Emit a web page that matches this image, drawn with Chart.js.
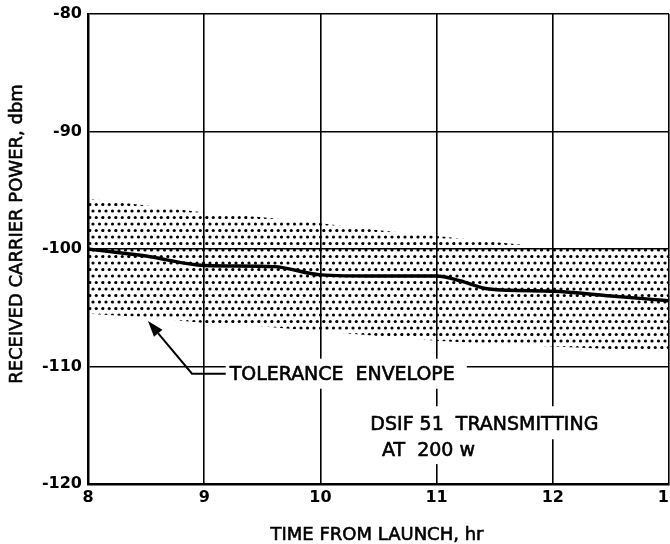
<!DOCTYPE html>
<html>
<head>
<meta charset="utf-8">
<script src="https://cdn.jsdelivr.net/npm/chart.js@4/dist/chart.umd.min.js"></script>
<style>
  html, body { margin: 0; padding: 0; background: #fff; }
  #wrap { width: 670px; height: 544px; }
</style>
</head>
<body>
<div id="wrap"><canvas id="c" width="670" height="544"></canvas></div>
<script>
// Axis ticks
const hourTicks = [8, 9, 10, 11, 12, 13];
const powerTicks = [-80, -90, -100, -110, -120];

// Received carrier power (dbm) against time from launch (hr)
const carrierHours = [8, 8.5, 9, 9.6, 10, 10.5, 11, 11.2, 11.45, 12, 12.5, 13];
const carrierPower = [-100.0, -100.6, -101.4, -101.5, -102.2, -102.3, -102.3, -102.7, -103.4, -103.6, -104.0, -104.4];

// Tolerance envelope bounds (dbm)
const envelopeHours = [8, 8.5, 9, 9.5, 10, 10.5, 11, 11.5, 12, 12.5, 13];
const envelopeUpper = [-95.7, -96.3, -96.9, -97.3, -97.8, -98.4, -98.9, -99.4, -99.9, -100.0, -100.0];
const envelopeLower = [-105.5, -105.8, -106.3, -106.6, -107.0, -107.4, -107.8, -108.1, -108.3, -108.5, -108.5];

// Callout texts
const xTitle = 'TIME FROM LAUNCH, hr';
const yTitle = 'RECEIVED CARRIER POWER, dbm';
const envelopeLabel = 'TOLERANCE  ENVELOPE';
const stationLines = ['DSIF 51  TRANSMITTING', 'AT  200 w'];

const FONT = '"DejaVu Sans", "Liberation Sans", sans-serif';

// Stippled fill used for the envelope
function makeDots() {
  const t = document.createElement('canvas');
  t.width = 13; t.height = 13;
  const g = t.getContext('2d');
  g.fillStyle = '#000';
  const dots = [[2, 3], [8.5, 3], [5.25, 9.5], [11.75, 9.5], [-1.25, 9.5]];
  for (const [x, y] of dots) {
    g.beginPath(); g.arc(x, y, 1.6, 0, Math.PI * 2); g.fill();
  }
  return g.createPattern(t, 'repeat');
}

const pts = (xs, ys) => xs.map((x, i) => ({ x, y: ys[i] }));

// lettering drawn slightly heavier than the plain font
function letter(ctx, text, x, y, maxW) {
  ctx.fillText(text, x, y, maxW);
  ctx.strokeText(text, x, y, maxW);
}

const calloutPlugin = {
  id: 'callouts',
  afterDatasetsDraw(chart) {
    const { ctx, scales: { x, y } } = chart;
    const px = v => x.getPixelForValue(v);
    const py = v => y.getPixelForValue(v);
    ctx.save();
    ctx.fillStyle = '#000';
    ctx.strokeStyle = '#000';
    ctx.textBaseline = 'middle';

    // envelope label with leader and arrow
    ctx.font = '19px ' + FONT;
    const lx = px(9.22), ly = py(-110.7);
    ctx.fillStyle = '#fff';
    ctx.fillRect(lx - 4, ly - 16, 241, 30);
    ctx.fillStyle = '#000';
    ctx.textAlign = 'left';
    ctx.lineWidth = 0.6;
    letter(ctx, envelopeLabel, lx, ly, 225);

    const sx = px(8.895), sy = ly - 1;
    const tx = px(8.516), ty = py(-106.13);
    ctx.lineWidth = 2;
    ctx.beginPath();
    ctx.moveTo(lx - 4, sy);
    ctx.lineTo(sx, sy);
    const ang = Math.atan2(ty - sy, tx - sx);
    const hl = 16, hw = 5.5;
    const bx = tx - hl * Math.cos(ang), by = ty - hl * Math.sin(ang);
    ctx.lineTo(bx, by);
    ctx.stroke();
    ctx.beginPath();
    ctx.moveTo(tx, ty);
    ctx.lineTo(bx + hw * Math.sin(ang), by - hw * Math.cos(ang));
    ctx.lineTo(bx - hw * Math.sin(ang), by + hw * Math.cos(ang));
    ctx.closePath();
    ctx.fill();

    // station note
    const s1x = px(10.43), s1y = py(-115.0);
    const s2x = px(10.53), s2y = py(-117.2);
    ctx.fillStyle = '#fff';
    ctx.fillRect(s1x - 5, s1y - 19, 240, 33);
    ctx.fillRect(s2x - 5, s2y - 13, 108, 26);
    ctx.fillStyle = '#000';
    ctx.lineWidth = 0.6;
    letter(ctx, stationLines[0], s1x, s1y, 228);
    letter(ctx, stationLines[1], s2x, s2y, 98);

    // axis titles
    ctx.font = '18px ' + FONT;
    ctx.textAlign = 'center';
    letter(ctx, xTitle, 377, 535, 215);
    ctx.translate(17, 234);
    ctx.rotate(-Math.PI / 2);
    letter(ctx, yTitle, 0, 0, 305);
    ctx.restore();
  }
};

new Chart(document.getElementById('c').getContext('2d'), {
  type: 'line',
  data: {
    datasets: [
      { data: pts(envelopeHours, envelopeUpper), borderWidth: 0, pointRadius: 0, fill: false },
      { data: pts(envelopeHours, envelopeLower), borderWidth: 0, pointRadius: 0, fill: '-1', backgroundColor: makeDots() },
      { data: pts(carrierHours, carrierPower), borderColor: '#000', borderWidth: 3.4, pointRadius: 0, fill: false, cubicInterpolationMode: 'monotone' }
    ]
  },
  options: {
    responsive: false,
    animation: false,
    layout: { padding: { left: 0, right: 1, top: 14, bottom: 0 } },
    plugins: { legend: { display: false }, tooltip: { enabled: false } },
    scales: {
      x: {
        type: 'linear', min: 8, max: 13,
        afterBuildTicks: s => { s.ticks = hourTicks.map(v => ({ value: v })); },
        afterFit: s => { s.height = 60; s.paddingLeft = 0; s.paddingRight = 0; },
        grid: { color: '#000', lineWidth: 1.6, drawTicks: false },
        border: { color: '#000', width: 2.5 },
        ticks: { color: '#000', padding: 4, maxRotation: 0, font: { family: FONT, size: 16, weight: 'bold' } }
      },
      y: {
        type: 'linear', min: -120, max: -80,
        afterBuildTicks: s => { s.ticks = powerTicks.map(v => ({ value: v })); },
        afterFit: s => { s.width = 88; s.paddingTop = 0; s.paddingBottom = 0; },
        grid: { color: '#000', lineWidth: 1.6, drawTicks: false },
        border: { color: '#000', width: 2.5 },
        ticks: { color: '#000', padding: 6, font: { family: FONT, size: 16, weight: 'bold' } }
      }
    }
  },
  plugins: [calloutPlugin]
});
</script>
</body>
</html>
